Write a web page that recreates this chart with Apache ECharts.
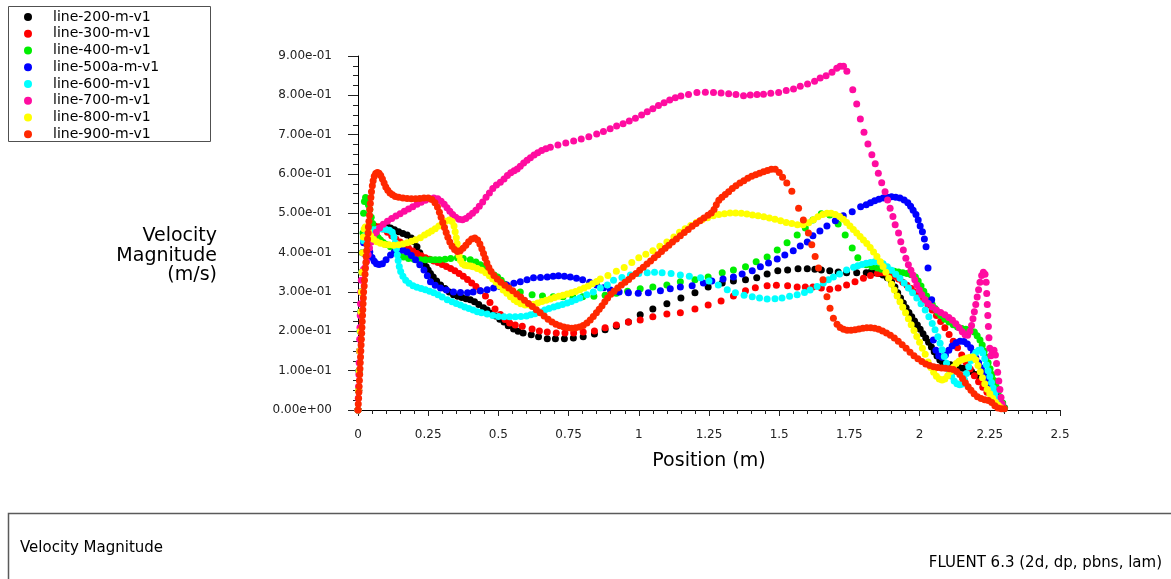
<!DOCTYPE html>
<html>
<head>
<meta charset="utf-8">
<title>Velocity Magnitude</title>
<script src="https://cdn.jsdelivr.net/npm/echarts@6/dist/echarts.min.js"></script>
<style>
  html, body { margin: 0; padding: 0; background: #ffffff; }
  #chart { width: 1171px; height: 579px; }
</style>
</head>
<body>
<div id="chart"></div>
<script>
// Sampled velocity magnitude profiles, [position (m), velocity (m/s)]
const seriesNames = ['line-200-m-v1', 'line-300-m-v1', 'line-400-m-v1', 'line-500a-m-v1',
                     'line-600-m-v1', 'line-700-m-v1', 'line-800-m-v1', 'line-900-m-v1'];
const seriesColors = ['#000000', '#ff0000', '#00ee00', '#0000ff',
                      '#00ffff', '#ff0ca0', '#ffff00', '#ff2800'];

const xTickLabels = ['0', '0.25', '0.5', '0.75', '1', '1.25', '1.5', '1.75', '2', '2.25', '2.5'];
const yTickLabels = ['0.00e+00', '1.00e-01', '2.00e-01', '3.00e-01', '4.00e-01',
                     '5.00e-01', '6.00e-01', '7.00e-01', '8.00e-01', '9.00e-01'];

const line200 = [
  [0,0],[0.002,0.05],[0.004,0.10],[0.006,0.15],[0.008,0.20],[0.010,0.25],[0.012,0.30],[0.014,0.35],[0.017,0.40],
  [0.022,0.43],[0.03,0.445],[0.045,0.455],[0.06,0.46],[0.075,0.463],[0.09,0.465],[0.105,0.465],[0.116,0.463],
  [0.13,0.458],[0.145,0.453],[0.16,0.449],[0.175,0.445],[0.19,0.437],[0.20,0.428],[0.21,0.415],[0.22,0.400],
  [0.228,0.388],[0.235,0.376],[0.243,0.364],[0.25,0.356],[0.258,0.347],[0.268,0.338],[0.28,0.328],[0.294,0.318],
  [0.31,0.309],[0.325,0.300],[0.34,0.293],[0.355,0.289],[0.37,0.286],[0.385,0.283],[0.40,0.28],[0.415,0.275],
  [0.43,0.268],[0.447,0.260],[0.46,0.254],[0.475,0.246],[0.49,0.239],[0.505,0.231],[0.52,0.224],
  [0.535,0.214],[0.554,0.206],[0.57,0.200],[0.588,0.196],[0.617,0.191],[0.643,0.186],[0.674,0.181],[0.703,0.181],
  [0.735,0.181],[0.767,0.183],[0.802,0.186],[0.842,0.193],[0.88,0.204],[0.92,0.213],[0.963,0.224],[1.005,0.242],
  [1.05,0.257],[1.10,0.27],[1.15,0.285],[1.20,0.298],[1.247,0.313],[1.297,0.323],[1.337,0.328],[1.38,0.331],
  [1.42,0.336],[1.457,0.346],[1.495,0.354],[1.53,0.356],[1.567,0.359],[1.60,0.359],[1.627,0.358],[1.65,0.356],
  [1.68,0.354],[1.71,0.351],[1.74,0.349],[1.776,0.349],[1.81,0.349],
  [1.825,0.350],[1.84,0.349],[1.855,0.347],[1.87,0.343],[1.885,0.336],[1.90,0.326],[1.912,0.313],[1.922,0.298],
  [1.932,0.285],[1.942,0.272],[1.952,0.26],[1.962,0.248],[1.972,0.237],[1.982,0.226],[1.992,0.216],[2.002,0.205],
  [2.012,0.194],[2.022,0.183],[2.032,0.172],[2.042,0.160],[2.052,0.148],[2.062,0.137],[2.072,0.127],[2.082,0.12],
  [2.095,0.117],[2.11,0.115],[2.125,0.112],[2.14,0.109],[2.155,0.106],[2.17,0.103],[2.185,0.098],[2.2,0.09],
  [2.215,0.08],[2.23,0.068],[2.245,0.055],[2.26,0.04],[2.272,0.027],[2.283,0.015],[2.293,0.006],[2.30,0.003]
];

const line300 = [
  [0,0],[0.003,0.05],[0.005,0.10],[0.007,0.15],[0.009,0.2],[0.011,0.25],[0.013,0.3],[0.016,0.35],[0.02,0.4],
  [0.026,0.435],[0.035,0.455],[0.045,0.465],[0.06,0.468],[0.075,0.466],[0.09,0.46],[0.105,0.452],[0.12,0.443],
  [0.135,0.435],[0.15,0.427],[0.165,0.419],[0.18,0.411],[0.195,0.404],[0.21,0.398],[0.225,0.392],[0.24,0.387],
  [0.255,0.383],[0.27,0.379],[0.285,0.375],[0.30,0.37],[0.315,0.365],[0.33,0.36],[0.345,0.354],[0.36,0.347],
  [0.375,0.34],[0.39,0.332],[0.405,0.323],[0.42,0.314],[0.435,0.303],
  [0.454,0.29],[0.47,0.273],[0.488,0.257],[0.507,0.243],[0.524,0.23],[0.54,0.221],[0.56,0.216],[0.585,0.213],
  [0.62,0.206],[0.646,0.201],[0.674,0.198],[0.706,0.196],[0.737,0.196],[0.768,0.196],[0.802,0.198],[0.842,0.201],
  [0.88,0.209],[0.92,0.216],[0.963,0.224],[1.005,0.229],[1.05,0.237],[1.10,0.244],[1.148,0.247],[1.20,0.257],
  [1.247,0.267],[1.293,0.277],[1.337,0.29],[1.38,0.303],[1.415,0.311],[1.457,0.316],[1.49,0.317],[1.53,0.316],
  [1.564,0.313],[1.593,0.313],[1.62,0.313],[1.65,0.31],[1.68,0.307],[1.71,0.31],[1.74,0.318],[1.77,0.326],
  [1.80,0.335],[1.825,0.342],[1.85,0.347],
  [1.865,0.349],[1.88,0.348],[1.895,0.345],[1.91,0.34],[1.925,0.333],[1.94,0.325],[1.955,0.317],[1.97,0.309],
  [1.985,0.30],[2.0,0.29],[2.015,0.279],[2.03,0.267],[2.045,0.254],[2.06,0.24],[2.075,0.225],[2.09,0.209],
  [2.105,0.192],[2.12,0.175],[2.135,0.158],[2.15,0.14],[2.165,0.122],[2.18,0.104],[2.195,0.087],[2.21,0.072],
  [2.225,0.058],[2.24,0.045],[2.255,0.033],[2.27,0.022],[2.283,0.012],[2.295,0.005]
];

const line400 = [
  [0,0],[0.002,0.05],[0.004,0.1],[0.006,0.15],[0.008,0.2],[0.010,0.25],[0.012,0.3],[0.014,0.35],[0.016,0.4],
  [0.018,0.45],[0.02,0.5],[0.023,0.53],[0.027,0.54],[0.032,0.535],[0.037,0.522],[0.042,0.51],[0.047,0.49],
  [0.052,0.474],[0.058,0.46],[0.065,0.447],[0.072,0.438],[0.08,0.432],[0.09,0.426],[0.10,0.421],[0.116,0.415],
  [0.13,0.405],[0.145,0.396],[0.162,0.389],[0.18,0.385],[0.2,0.383],[0.222,0.382],[0.24,0.382],[0.26,0.382],
  [0.275,0.382],[0.29,0.382],[0.31,0.383],[0.33,0.385],[0.354,0.387],[0.375,0.385],[0.40,0.382],[0.42,0.376],
  [0.435,0.369],[0.447,0.364],[0.46,0.356],[0.472,0.348],[0.485,0.343],[0.497,0.338],[0.51,0.33],[0.523,0.32],
  [0.535,0.313],
  [0.578,0.30],[0.62,0.293],[0.657,0.29],[0.695,0.288],[0.73,0.288],[0.765,0.288],[0.80,0.288],[0.84,0.289],
  [0.88,0.292],[0.92,0.297],[0.96,0.302],[1.005,0.308],[1.05,0.313],[1.10,0.318],[1.148,0.326],[1.20,0.331],
  [1.247,0.338],[1.297,0.349],[1.337,0.356],[1.38,0.364],[1.418,0.377],[1.457,0.389],[1.493,0.407],[1.528,0.425],
  [1.564,0.445],[1.593,0.463],[1.62,0.483],[1.65,0.499],[1.68,0.496],[1.71,0.473],[1.735,0.445],[1.76,0.412],
  [1.78,0.387],[1.81,0.369],
  [1.83,0.364],[1.85,0.361],[1.865,0.358],[1.88,0.356],[1.895,0.355],[1.91,0.353],[1.925,0.351],[1.94,0.349],
  [1.955,0.347],[1.97,0.344],[1.985,0.338],[1.995,0.328],[2.005,0.315],[2.015,0.302],[2.025,0.29],[2.035,0.279],
  [2.045,0.268],[2.055,0.258],[2.065,0.248],[2.075,0.24],[2.09,0.231],[2.105,0.224],[2.12,0.217],[2.135,0.211],
  [2.15,0.207],[2.165,0.205],[2.18,0.203],[2.195,0.198],[2.205,0.189],[2.215,0.178],[2.223,0.165],[2.23,0.15],
  [2.237,0.135],[2.244,0.12],[2.251,0.105],[2.258,0.09],[2.265,0.075],[2.272,0.06],[2.28,0.046],[2.288,0.032],
  [2.296,0.018],[2.303,0.006]
];

const line500a = [
  [0,0],[0.002,0.05],[0.004,0.1],[0.006,0.15],[0.008,0.2],[0.01,0.25],[0.012,0.3],[0.014,0.35],[0.016,0.4],
  [0.02,0.425],[0.025,0.43],[0.03,0.425],[0.036,0.414],[0.042,0.402],[0.05,0.388],[0.058,0.378],[0.066,0.372],
  [0.075,0.37],[0.087,0.372],[0.1,0.382],[0.116,0.394],[0.13,0.402],[0.145,0.407],[0.16,0.406],[0.175,0.402],
  [0.19,0.393],[0.205,0.382],[0.22,0.369],[0.235,0.356],[0.247,0.341],[0.258,0.326],[0.275,0.317],[0.294,0.31],
  [0.315,0.305],[0.34,0.30],[0.365,0.299],[0.39,0.298],[0.41,0.3],[0.436,0.303],[0.46,0.306],[0.483,0.31],
  [0.505,0.314],[0.53,0.318],
  [0.555,0.322],[0.578,0.326],[0.602,0.331],[0.625,0.336],[0.65,0.337],[0.674,0.338],[0.695,0.34],[0.714,0.341],
  [0.735,0.34],[0.756,0.338],[0.778,0.335],[0.80,0.331],[0.825,0.325],[0.85,0.318],[0.875,0.311],[0.899,0.305],
  [0.93,0.30],[0.963,0.298],[0.998,0.297],[1.034,0.298],[1.077,0.303],[1.112,0.308],[1.148,0.313],[1.19,0.316],
  [1.23,0.323],[1.26,0.328],[1.30,0.333],[1.337,0.338],[1.368,0.346],[1.404,0.354],[1.433,0.364],[1.462,0.374],
  [1.493,0.384],[1.52,0.394],[1.55,0.405],[1.575,0.417],[1.60,0.427],[1.62,0.443],[1.645,0.455],[1.67,0.468],
  [1.70,0.481],[1.728,0.494],[1.76,0.504],[1.79,0.517],[1.81,0.522],
  [1.825,0.527],[1.84,0.532],[1.855,0.536],[1.87,0.539],[1.885,0.541],[1.9,0.542],[1.915,0.541],[1.93,0.539],
  [1.945,0.534],[1.958,0.527],[1.968,0.518],[1.977,0.508],
  [1.987,0.497],[1.995,0.483],[2.002,0.468],[2.01,0.453],[2.017,0.435],[2.023,0.415],[2.03,0.361],[2.043,0.280],
  [2.049,0.178],
  [2.058,0.152],[2.068,0.138],[2.08,0.134],[2.092,0.14],[2.104,0.152],[2.116,0.163],[2.13,0.171],[2.144,0.175],
  [2.158,0.174],[2.17,0.168],[2.182,0.158],[2.192,0.146],[2.2,0.133],[2.21,0.12],[2.22,0.107],[2.23,0.094],
  [2.24,0.08],[2.25,0.066],[2.26,0.052],[2.27,0.038],[2.28,0.026],[2.29,0.014],[2.3,0.005]
];

const line600 = [
  [0,0],[0.002,0.05],[0.004,0.1],[0.006,0.15],[0.008,0.2],[0.01,0.25],[0.012,0.3],[0.014,0.35],[0.017,0.4],
  [0.02,0.43],[0.027,0.445],[0.04,0.452],[0.055,0.458],[0.07,0.46],[0.085,0.46],[0.1,0.459],[0.112,0.457],
  [0.122,0.452],[0.128,0.44],[0.133,0.425],[0.137,0.41],[0.14,0.395],[0.143,0.38],[0.147,0.365],[0.152,0.352],
  [0.16,0.34],[0.17,0.33],[0.182,0.322],[0.196,0.316],[0.21,0.312],[0.225,0.309],[0.24,0.306],[0.255,0.302],
  [0.27,0.298],[0.285,0.293],[0.30,0.287],[0.318,0.28],[0.335,0.275],[0.35,0.271],[0.365,0.267],[0.38,0.262],
  [0.395,0.258],[0.41,0.254],[0.425,0.25],[0.44,0.247],[0.46,0.244],[0.48,0.24],[0.5,0.238],[0.52,0.237],
  [0.54,0.237],[0.56,0.237],[0.58,0.238],[0.6,0.239],[0.615,0.242],[0.63,0.245],[0.65,0.249],[0.665,0.254],
  [0.68,0.258],[0.697,0.262],[0.712,0.265],[0.728,0.268],[0.745,0.272],[0.76,0.276],[0.775,0.28],[0.79,0.285],
  [0.815,0.293],[0.838,0.30],[0.863,0.31],[0.888,0.318],[0.91,0.33],[0.94,0.337],[0.97,0.343],[1.0,0.347],
  [1.03,0.349],[1.056,0.35],[1.083,0.349],[1.115,0.347],[1.148,0.343],[1.18,0.34],[1.22,0.336],[1.25,0.328],
  [1.283,0.318],[1.315,0.306],[1.344,0.298],[1.375,0.292],[1.404,0.288],[1.43,0.285],[1.457,0.282],[1.485,0.283],
  [1.51,0.285],[1.537,0.289],[1.564,0.293],[1.59,0.299],[1.61,0.305],[1.635,0.314],[1.657,0.323],[1.675,0.331],
  [1.693,0.338],[1.715,0.346],[1.74,0.356],[1.765,0.363],[1.78,0.367],
  [1.795,0.37],[1.81,0.373],[1.825,0.375],[1.84,0.377],[1.855,0.376],[1.87,0.372],[1.885,0.364],[1.9,0.355],
  [1.915,0.345],[1.93,0.335],[1.945,0.323],[1.96,0.31],[1.975,0.298],[1.99,0.285],[2.005,0.27],[2.02,0.254],
  [2.033,0.237],[2.045,0.22],[2.055,0.204],[2.065,0.186],[2.073,0.17],[2.08,0.153],[2.088,0.136],[2.096,0.119],
  [2.105,0.102],[2.114,0.086],[2.123,0.074],[2.133,0.067],[2.143,0.064],[2.152,0.066],[2.16,0.077],[2.167,0.093],
  [2.175,0.11],[2.183,0.126],[2.192,0.138],[2.2,0.146],[2.21,0.152],[2.218,0.153],[2.225,0.145],[2.232,0.13],
  [2.238,0.115],[2.244,0.1],[2.25,0.085],[2.256,0.07],[2.262,0.056],[2.268,0.043],[2.275,0.03],[2.283,0.018],
  [2.292,0.008],[2.3,0.003]
];

const line700 = [
  [0,0],[0.001,0.03],[0.002,0.06],[0.003,0.09],[0.004,0.12],[0.005,0.15],[0.006,0.18],[0.007,0.21],[0.008,0.24],
  [0.009,0.27],[0.010,0.30],[0.012,0.33],[0.015,0.35],[0.02,0.358],[0.026,0.362],[0.031,0.378],[0.036,0.395],
  [0.041,0.412],[0.047,0.427],[0.055,0.44],[0.065,0.452],[0.077,0.463],[0.09,0.472],[0.105,0.48],[0.12,0.487],
  [0.135,0.493],[0.15,0.499],[0.165,0.505],[0.18,0.511],[0.195,0.517],[0.21,0.523],[0.225,0.528],[0.24,0.533],
  [0.255,0.537],[0.27,0.539],[0.284,0.537],[0.296,0.531],[0.307,0.523],[0.317,0.514],[0.327,0.505],[0.337,0.497],
  [0.348,0.49],[0.36,0.485],[0.372,0.484],[0.384,0.487],[0.396,0.493],[0.408,0.5],[0.42,0.508],[0.432,0.518],
  [0.444,0.529],[0.456,0.541],[0.468,0.552],[0.48,0.563],[0.493,0.572],[0.507,0.579],[0.52,0.587],[0.532,0.596],
  [0.544,0.603],[0.556,0.608],[0.567,0.613],[0.578,0.62],[0.59,0.628],[0.602,0.635],[0.614,0.641],[0.627,0.648],
  [0.64,0.654],[0.654,0.66],[0.669,0.664],[0.685,0.668],
  [0.712,0.674],[0.74,0.679],[0.768,0.684],[0.795,0.689],[0.822,0.695],[0.85,0.702],[0.874,0.708],[0.898,0.715],
  [0.921,0.722],[0.944,0.728],[0.966,0.735],[0.988,0.742],[1.01,0.75],[1.03,0.758],[1.05,0.766],[1.07,0.774],
  [1.09,0.781],[1.11,0.788],[1.13,0.794],[1.15,0.798],[1.177,0.802],[1.207,0.807],[1.237,0.808],[1.266,0.807],
  [1.293,0.806],[1.32,0.804],[1.346,0.802],[1.373,0.799],[1.397,0.801],[1.421,0.802],[1.444,0.803],[1.47,0.805],
  [1.498,0.807],[1.525,0.812],[1.551,0.816],[1.575,0.823],[1.601,0.829],[1.626,0.836],[1.646,0.844],[1.667,0.85],
  [1.688,0.859],[1.705,0.869],[1.717,0.874],[1.729,0.874],[1.741,0.861],[1.762,0.814],[1.776,0.778],[1.789,0.74],
  [1.802,0.706],[1.816,0.676],[1.83,0.649],[1.842,0.626],[1.853,0.602],[1.865,0.578],[1.877,0.555],[1.886,0.534],
  [1.895,0.513],[1.905,0.492],[1.913,0.471],[1.925,0.45],[1.933,0.428],[1.942,0.407],[1.951,0.386],[1.96,0.369],
  [1.969,0.355],[1.976,0.343],[1.983,0.331],[1.99,0.318],[1.999,0.305],[2.008,0.293],[2.019,0.281],[2.031,0.271],
  [2.045,0.262],[2.06,0.254],[2.075,0.248],[2.09,0.242],[2.104,0.235],[2.117,0.228],[2.129,0.219],[2.141,0.209],
  [2.152,0.199],[2.162,0.191],[2.171,0.19],[2.179,0.2],[2.185,0.215],[2.19,0.232],[2.195,0.25],[2.2,0.268],
  [2.205,0.287],[2.21,0.306],[2.215,0.325],[2.221,0.342],[2.227,0.35],[2.233,0.345],[2.237,0.325],
  [2.239,0.296],[2.241,0.268],[2.243,0.24],[2.245,0.212],[2.247,0.184],[2.25,0.157],[2.254,0.138],[2.259,0.146],
  [2.265,0.152],[2.27,0.14],[2.274,0.118],[2.278,0.096],[2.282,0.074],[2.286,0.052],[2.29,0.032],[2.294,0.016],
  [2.298,0.006]
];

const line800 = [
  [0,0],[0.002,0.05],[0.004,0.1],[0.006,0.15],[0.008,0.2],[0.01,0.25],[0.012,0.3],[0.014,0.35],[0.016,0.4],
  [0.019,0.44],[0.022,0.46],[0.026,0.465],[0.032,0.46],[0.038,0.452],[0.045,0.443],[0.055,0.434],[0.067,0.428],
  [0.08,0.424],[0.095,0.421],[0.11,0.42],[0.127,0.419],[0.145,0.42],[0.16,0.422],[0.175,0.425],[0.19,0.429],
  [0.205,0.433],[0.222,0.438],[0.237,0.445],[0.25,0.45],[0.262,0.455],[0.275,0.461],[0.288,0.468],[0.3,0.475],
  [0.312,0.48],[0.325,0.483],[0.335,0.479],
  [0.342,0.468],[0.346,0.453],[0.35,0.438],[0.353,0.423],[0.356,0.408],[0.36,0.393],[0.365,0.38],[0.372,0.372],
  [0.38,0.368],[0.39,0.367],[0.40,0.366],[0.41,0.364],[0.425,0.36],[0.44,0.355],[0.455,0.349],[0.468,0.341],
  [0.48,0.333],[0.492,0.325],[0.505,0.315],[0.517,0.305],[0.53,0.297],[0.543,0.288],[0.556,0.28],[0.567,0.275],
  [0.58,0.27],[0.595,0.267],[0.61,0.267],[0.625,0.269],[0.64,0.272],[0.655,0.276],[0.67,0.279],[0.685,0.282],
  [0.7,0.286],[0.715,0.289],[0.73,0.292],[0.745,0.295],[0.76,0.298],[0.775,0.301],[0.79,0.306],[0.805,0.31],
  [0.82,0.315],[0.835,0.321],[0.85,0.327],[0.863,0.333],
  [0.89,0.342],[0.92,0.353],[0.948,0.362],[0.975,0.375],[1.0,0.387],[1.025,0.396],[1.05,0.405],[1.075,0.416],
  [1.10,0.427],[1.125,0.44],[1.145,0.452],[1.165,0.461],[1.185,0.469],[1.205,0.477],[1.225,0.484],[1.245,0.489],
  [1.265,0.494],[1.285,0.497],[1.305,0.499],[1.325,0.501],[1.345,0.501],[1.365,0.5],[1.385,0.498],[1.405,0.496],
  [1.425,0.494],[1.445,0.491],[1.465,0.488],[1.485,0.485],[1.505,0.481],[1.525,0.477],[1.545,0.474],[1.565,0.471],
  [1.585,0.471],[1.605,0.476],[1.622,0.484],[1.638,0.491],[1.655,0.497],[1.67,0.5],[1.685,0.5],
  [1.7,0.497],[1.715,0.492],[1.728,0.485],[1.74,0.477],[1.752,0.468],[1.764,0.459],[1.776,0.45],[1.788,0.441],
  [1.8,0.432],[1.812,0.423],[1.824,0.413],[1.836,0.402],[1.848,0.39],[1.86,0.377],[1.87,0.365],[1.88,0.35],
  [1.89,0.335],[1.9,0.32],[1.91,0.305],[1.92,0.29],[1.93,0.275],[1.94,0.261],[1.95,0.247],[1.96,0.232],
  [1.97,0.217],[1.98,0.202],[1.99,0.187],[2.0,0.172],[2.01,0.157],[2.02,0.142],[2.03,0.122],[2.04,0.108],
  [2.05,0.096],[2.06,0.086],[2.07,0.079],[2.08,0.076],[2.09,0.079],[2.1,0.087],[2.11,0.098],[2.12,0.109],
  [2.13,0.118],[2.14,0.124],[2.15,0.128],[2.16,0.13],[2.17,0.132],[2.18,0.134],[2.19,0.135],[2.2,0.128],
  [2.208,0.113],[2.216,0.097],[2.224,0.082],[2.232,0.067],[2.241,0.053],[2.25,0.041],[2.26,0.03],[2.27,0.02],
  [2.28,0.012],[2.29,0.006]
];

const line900 = [
  [0,0],[0.001,0.015],[0.002,0.03],[0.003,0.045],[0.004,0.06],[0.005,0.075],[0.006,0.09],[0.007,0.105],
  [0.008,0.12],[0.009,0.135],[0.010,0.15],[0.011,0.165],[0.012,0.18],[0.013,0.195],[0.014,0.21],[0.015,0.225],
  [0.016,0.24],[0.017,0.255],[0.018,0.27],[0.019,0.285],[0.020,0.30],[0.022,0.315],[0.023,0.33],[0.025,0.345],
  [0.026,0.36],[0.028,0.375],[0.029,0.39],[0.031,0.405],[0.032,0.42],[0.034,0.435],[0.036,0.45],[0.037,0.465],
  [0.039,0.48],[0.041,0.495],[0.042,0.51],[0.044,0.525],[0.046,0.54],[0.048,0.555],[0.051,0.57],[0.054,0.583],
  [0.058,0.594],[0.063,0.601],[0.069,0.604],[0.075,0.602],[0.081,0.596],[0.087,0.587],[0.093,0.577],[0.099,0.567],
  [0.106,0.559],[0.114,0.552],[0.123,0.547],[0.133,0.543],[0.145,0.541],[0.16,0.539],[0.175,0.538],[0.19,0.537],
  [0.205,0.537],[0.22,0.538],[0.235,0.539],[0.25,0.539],[0.263,0.535],[0.274,0.527],[0.283,0.516],[0.29,0.503],
  [0.296,0.49],[0.302,0.477],[0.308,0.464],[0.314,0.451],[0.32,0.439],[0.327,0.427],[0.335,0.416],[0.344,0.408],
  [0.354,0.403],[0.364,0.405],[0.374,0.411],[0.384,0.419],[0.394,0.428],[0.405,0.435],[0.416,0.437],[0.426,0.432],
  [0.434,0.422],[0.441,0.41],[0.447,0.398],[0.453,0.386],[0.459,0.374],[0.466,0.362],[0.474,0.352],[0.484,0.342],
  [0.496,0.333],[0.509,0.325],[0.523,0.317],[0.537,0.31],[0.551,0.303],[0.565,0.295],[0.579,0.287],[0.593,0.279],
  [0.607,0.271],[0.621,0.263],[0.635,0.255],[0.649,0.247],[0.663,0.239],[0.677,0.231],[0.691,0.224],[0.705,0.218],
  [0.719,0.214],[0.733,0.211],[0.747,0.209],[0.761,0.208],[0.775,0.209],[0.789,0.211],[0.802,0.215],[0.815,0.221],
  [0.827,0.229],[0.838,0.238],[0.849,0.247],[0.859,0.256],[0.869,0.265],[0.879,0.275],[0.889,0.285],[0.9,0.294],
  [0.912,0.302],[0.925,0.31],[0.938,0.318],[0.951,0.325],[0.964,0.332],[0.977,0.34],[0.99,0.347],[1.003,0.355],
  [1.016,0.363],[1.029,0.371],[1.042,0.379],[1.055,0.387],[1.068,0.395],[1.081,0.403],[1.094,0.411],[1.107,0.419],
  [1.12,0.427],[1.134,0.435],[1.148,0.443],[1.162,0.451],[1.176,0.459],[1.19,0.467],[1.204,0.474],[1.218,0.481],
  [1.232,0.488],[1.246,0.495],[1.258,0.501],
  [1.268,0.51],[1.276,0.522],[1.285,0.533],[1.296,0.541],[1.308,0.548],[1.32,0.555],[1.333,0.563],[1.346,0.57],
  [1.36,0.577],[1.374,0.583],[1.388,0.589],[1.402,0.594],[1.416,0.598],[1.43,0.602],[1.444,0.606],[1.458,0.609],
  [1.472,0.612],[1.486,0.612],[1.500,0.604],[1.512,0.592],[1.527,0.577],[1.545,0.556],[1.569,0.513],[1.586,0.483],
  [1.604,0.45],[1.616,0.42],[1.628,0.39],[1.64,0.361],[1.656,0.331],[1.67,0.288],[1.681,0.259],[1.693,0.233],
  [1.706,0.218],[1.717,0.21],[1.729,0.205],[1.742,0.203],[1.756,0.203],[1.77,0.204],[1.784,0.206],[1.798,0.208],
  [1.812,0.209],[1.826,0.209],[1.84,0.208],[1.854,0.205],[1.868,0.201],[1.882,0.196],[1.896,0.19],[1.91,0.183],
  [1.924,0.175],[1.938,0.166],[1.952,0.157],[1.966,0.147],[1.98,0.138],[1.994,0.13],[2.008,0.123],[2.022,0.117],
  [2.036,0.113],[2.05,0.11],[2.064,0.108],[2.078,0.107],[2.092,0.106],[2.106,0.105],[2.12,0.103],[2.132,0.098],
  [2.143,0.09],[2.153,0.08],[2.163,0.069],[2.173,0.059],[2.183,0.05],[2.194,0.041],[2.206,0.034],[2.219,0.029],
  [2.232,0.026],[2.245,0.024],[2.257,0.019],[2.268,0.011],[2.279,0.005],[2.291,0.003],[2.302,0.003]
];

const seriesData = [line200, line300, line400, line500a, line600, line700, line800, line900];

const FONT = 'DejaVu Sans';
const chart = echarts.init(document.getElementById('chart'), null, { renderer: 'canvas' });

chart.setOption({
  animation: false,
  backgroundColor: '#ffffff',
  grid: { left: 358, right: 111, top: 56, bottom: 169, containLabel: false },
  legend: {
    orient: 'vertical',
    left: 24,
    top: 8.6,
    padding: 0,
    itemGap: 0,
    itemWidth: 40,
    itemHeight: 8,
    icon: 'circle',
    selectedMode: false,
    data: seriesNames,
    textStyle: { fontFamily: FONT, fontSize: 14, color: '#000000', lineHeight: 16.75 }
  },
  xAxis: {
    type: 'value',
    min: 0, max: 2.5, interval: 0.25,
    axisLine: { show: true, onZero: false, lineStyle: { color: '#000000', width: 1 } },
    axisTick: { show: true, length: 6, lineStyle: { color: '#222222' } },
    minorTick: { show: true, splitNumber: 5, length: 4, lineStyle: { color: '#222222' } },
    splitLine: { show: false },
    axisLabel: {
      margin: 19, fontFamily: FONT, fontSize: 12, color: '#222222',
      formatter: v => xTickLabels[Math.round(v / 0.25)]
    }
  },
  yAxis: {
    type: 'value',
    min: 0, max: 0.9, interval: 0.1,
    axisLine: { show: true, onZero: false, lineStyle: { color: '#000000', width: 1 } },
    axisTick: { show: true, length: 10, lineStyle: { color: '#222222' } },
    minorTick: { show: true, splitNumber: 4, length: 5, lineStyle: { color: '#222222' } },
    splitLine: { show: false },
    axisLabel: {
      margin: 26, fontFamily: FONT, fontSize: 12, color: '#222222',
      formatter: v => yTickLabels[Math.round(v / 0.1)]
    }
  },
  graphic: [
    { type: 'rect', shape: { x: 8.5, y: 6.5, width: 202, height: 135 },
      style: { fill: 'none', stroke: '#505050', lineWidth: 1 }, silent: true },
    { type: 'text', x: 217, y: 256,
      style: { text: 'Velocity\nMagnitude\n(m/s)', fontFamily: FONT, fontSize: 19, lineHeight: 19.5,
               fill: '#000000', align: 'right', verticalAlign: 'middle' }, silent: true },
    { type: 'text', x: 709, y: 461,
      style: { text: 'Position (m)', fontFamily: FONT, fontSize: 19, fill: '#000000',
               align: 'center', verticalAlign: 'middle' }, silent: true },
    { type: 'rect', shape: { x: 8.5, y: 513.5, width: 1175, height: 80 },
      style: { fill: 'none', stroke: '#5a5a5a', lineWidth: 1.5 }, silent: true },
    { type: 'text', x: 20, y: 548,
      style: { text: 'Velocity Magnitude', fontFamily: FONT, fontSize: 15, fill: '#000000',
               align: 'left', verticalAlign: 'middle' }, silent: true },
    { type: 'text', x: 1162, y: 563,
      style: { text: 'FLUENT 6.3 (2d, dp, pbns, lam)', fontFamily: FONT, fontSize: 15, fill: '#000000',
               align: 'right', verticalAlign: 'middle' }, silent: true }
  ],
  series: seriesNames.map((name, i) => ({
    name: name,
    type: 'scatter',
    symbol: 'circle',
    symbolSize: 7,
    silent: true,
    itemStyle: { color: seriesColors[i], opacity: 1 },
    data: seriesData[i]
  }))
});
</script>
</body>
</html>
